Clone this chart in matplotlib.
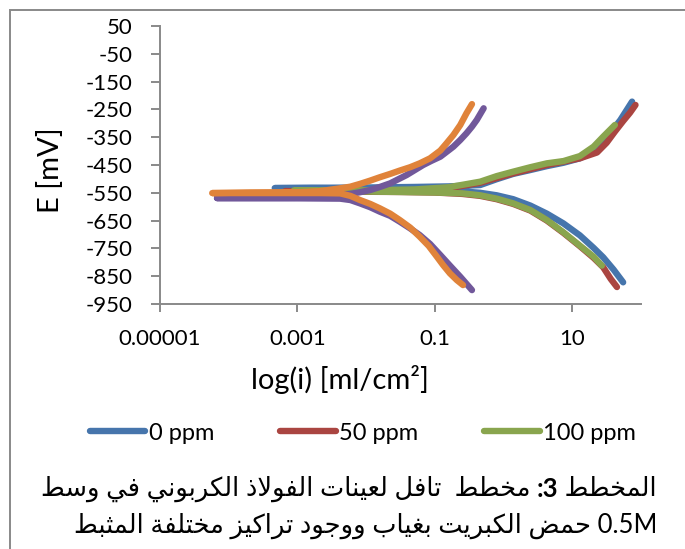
import re
import matplotlib
matplotlib.use("Agg")
import matplotlib.pyplot as plt
from matplotlib.patches import Rectangle
from matplotlib.lines import Line2D

plt.rcParams['font.family'] = ['Lato', 'DejaVu Sans']

# Tafel curves: log10(i) and E [mV], from the cathodic end through Ecorr to the anodic end
logi_0 = [1.74, 1.60, 1.45, 1.31, 1.11, 0.87, 0.63, 0.39, 0.14, -0.10, -0.34, -0.60,
          -1.00, -1.50, -2.20, -2.80, -3.33,
          -2.80, -2.00, -1.30, -0.80, -0.34, -0.10, 0.14, 0.39, 0.63, 0.87, 1.11,
          1.26, 1.40, 1.55, 1.70, 1.87]
E_0 = [-872, -826, -782, -748, -703, -660, -625, -596, -573, -559, -550, -545,
       -541, -537, -534, -533, -533,
       -532, -531, -529, -527, -522, -501, -482, -468, -454, -442, -426,
       -408, -378, -336, -288, -222]

logi_50 = [1.65, 1.56, 1.45, 1.31, 1.11, 0.87, 0.63, 0.39, 0.14, -0.10, -0.34, -0.60,
           -1.00, -1.50, -2.20, -2.80, -3.18,
           -2.80, -2.00, -1.30, -0.80, -0.34, 0.14, 0.63, 1.11, 1.36, 1.50, 1.62,
           1.74, 1.84, 1.92]
E_50 = [-889, -860, -818, -784, -742, -694, -650, -614, -590, -573, -561, -554,
        -549, -547, -546, -545, -544,
        -544, -543, -541, -534, -514, -480, -450, -426, -405, -370, -330,
        -292, -262, -234]

logi_100 = [1.43, 1.31, 1.11, 0.87, 0.63, 0.39, 0.14, -0.10, -0.34, -0.60,
            -1.00, -1.50, -2.20, -2.70, -3.05,
            -2.70, -2.00, -1.30, -0.80, -0.34, -0.10, 0.14, 0.39, 0.63, 0.87, 1.11,
            1.31, 1.45, 1.62]
E_100 = [-812, -780, -740, -692, -648, -612, -588, -571, -559, -552,
         -549, -547, -545, -543, -541,
         -542, -541, -538, -530, -510, -490, -474, -458, -444, -436, -418,
         -384, -348, -306]

logi_p = [-0.46, -0.63, -0.78, -0.92, -1.07, -1.22, -1.36, -1.51, -1.65, -1.80, -1.94,
          -2.09, -2.23, -2.38, -2.96, -3.60, -4.17,
          -3.60, -2.96, -2.60, -2.38, -2.23, -2.09, -1.94, -1.80, -1.65, -1.53, -1.41,
          -1.29, -1.17, -1.05, -0.92, -0.83, -0.73, -0.63, -0.54, -0.46, -0.39, -0.29]
E_p = [-900, -852, -812, -774, -734, -702, -678, -654, -633, -618, -602,
       -588, -576, -571, -570, -569, -569,
       -569, -568, -563, -558, -554, -548, -540, -529, -516, -501, -486,
       -468, -450, -435, -420, -403, -384, -360, -336, -312, -288, -246]

logi_o = [-0.59, -0.68, -0.78, -0.88, -0.97, -1.09, -1.22, -1.36, -1.51, -1.65, -1.80,
          -1.94, -2.09, -2.23, -2.38, -2.67, -2.96, -3.69, -4.24,
          -3.69, -2.96, -2.67, -2.38, -2.23, -2.09, -1.94, -1.80, -1.65, -1.51, -1.36,
          -1.22, -1.07, -0.92, -0.83, -0.73, -0.63, -0.54, -0.46]
E_o = [-882, -864, -840, -810, -780, -741, -708, -675, -648, -625, -606,
       -590, -576, -561, -552, -551, -551, -551, -551,
       -549, -548, -544, -534, -528, -518, -506, -494, -482, -470, -458,
       -444, -426, -398, -372, -342, -306, -264, -231]

series = [
    (logi_0, E_0, '#4675AC', '0 ppm'),
    (logi_50, E_50, '#AA4541', '50 ppm'),
    (logi_100, E_100, '#89A54E', '100 ppm'),
    (logi_p, E_p, '#71589A', None),
    (logi_o, E_o, '#E0833A', None),
]

yticks = list(range(50, -951, -100))
xticks = [1e-5, 1e-3, 1e-1, 10]
xticklabels = ['0.00001', '0.001', '0.1', '10']

caption_1a = 'المخطط '
caption_1b = '3:'
caption_1c = ' مخطط  تافل لعينات الفولاذ الكربوني في وسط'
caption_2 = '0.5M حمض الكبريت بغياب ووجود تراكيز مختلفة المثبط'

# --- minimal Arabic shaping (presentation forms) + right-to-left ordering ---
DUAL = {'ب': 0xFE8F, 'ت': 0xFE95, 'ث': 0xFE99, 'ج': 0xFE9D, 'ح': 0xFEA1, 'خ': 0xFEA5,
        'س': 0xFEB1, 'ش': 0xFEB5, 'ص': 0xFEB9, 'ض': 0xFEBD, 'ط': 0xFEC1, 'ظ': 0xFEC5,
        'ع': 0xFEC9, 'غ': 0xFECD, 'ف': 0xFED1, 'ق': 0xFED5, 'ك': 0xFED9, 'ل': 0xFEDD,
        'م': 0xFEE1, 'ن': 0xFEE5, 'ه': 0xFEE9, 'ي': 0xFEF1, 'ئ': 0xFE89}
RIGHT = {'ا': 0xFE8D, 'أ': 0xFE83, 'إ': 0xFE87, 'آ': 0xFE81, 'د': 0xFEA9, 'ذ': 0xFEAB,
         'ر': 0xFEAD, 'ز': 0xFEAF, 'و': 0xFEED, 'ة': 0xFE93, 'ى': 0xFEEF, 'ؤ': 0xFE85}
LAM_ALEF = {'ا': 0xFEFB, 'أ': 0xFEF7, 'إ': 0xFEF9, 'آ': 0xFEF5}


def shape(s):
    units = []
    i = 0
    while i < len(s):
        c = s[i]
        if c == 'ل' and i + 1 < len(s) and s[i + 1] in LAM_ALEF:
            units.append(('r', LAM_ALEF[s[i + 1]], None))
            i += 2
            continue
        if c in DUAL:
            units.append(('d', DUAL[c], None))
        elif c in RIGHT:
            units.append(('r', RIGHT[c], None))
        else:
            units.append(('n', None, c))
        i += 1
    out = []
    for k, (kind, base, ch) in enumerate(units):
        if kind == 'n':
            out.append(ch)
            continue
        prev = k > 0 and units[k - 1][0] == 'd'
        nxt = k + 1 < len(units) and units[k + 1][0] in ('d', 'r')
        if kind == 'd':
            off = {(False, False): 0, (True, False): 1, (False, True): 2, (True, True): 3}[(prev, nxt)]
        else:
            off = 1 if prev else 0
        out.append(chr(base + off))
    return ''.join(out)


def visual(s):
    runs = re.split(r'([0-9A-Za-z.]+)', shape(s))
    runs = [r if re.fullmatch(r'[0-9A-Za-z.]+', r) else r[::-1] for r in runs if r]
    return ''.join(runs[::-1])


fig = plt.figure(figsize=(6.85, 5.49), dpi=100)
W, H = 685, 549
ax = fig.add_axes([160 / W, 1 - 304 / H, 481 / W, 278 / H])

for logi, E, col, lab in series:
    ax.plot([10 ** v for v in logi], E, color=col, lw=4.6,
            solid_capstyle='round', solid_joinstyle='round',
            label=lab if lab else '_nolegend_')

ax.set_xscale('log')
ax.set_xlim(1e-5, 100)
ax.set_ylim(-950, 50)
ax.set_xticks(xticks)
ax.set_xticklabels(xticklabels)
ax.xaxis.set_minor_locator(matplotlib.ticker.NullLocator())
ax.set_yticks(yticks)
ax.set_yticklabels([str(v) for v in yticks])

gray = '#898989'
for side in ['top', 'right']:
    ax.spines[side].set_visible(False)
for side in ['left', 'bottom']:
    ax.spines[side].set_color(gray)
    ax.spines[side].set_linewidth(1.4)
ax.tick_params(axis='y', direction='out', length=6.5, width=1.4, color=gray,
               pad=13, labelsize=16)
ax.tick_params(axis='x', direction='out', length=6, width=1.4, color=gray,
               pad=12, labelsize=16)

ax.set_ylabel('E [mV]', fontsize=21)
ax.yaxis.set_label_coords(-0.20, 0.48)
fig.text(340 / W, 1 - 380 / H, 'log(i) [ml/cm²]', fontsize=21,
         ha='center', va='center')

handles = [Line2D([], [], color=c, lw=4.6, solid_capstyle='round')
           for _, _, c, lab in series if lab]
labels = [lab for _, _, _, lab in series if lab]
fig.legend(handles, labels, loc='center', bbox_to_anchor=(363 / W, 1 - 433 / H),
           ncol=3, frameon=False, fontsize=17, handlelength=2.35,
           handletextpad=0.15, columnspacing=2.8)

# outer chart border
fig.add_artist(Rectangle((10 / W, -0.05), 1.2, 1 - 10 / H + 0.05,
                         transform=fig.transFigure, fill=False,
                         edgecolor=gray, lw=1.4))

# caption, drawn right to left
renderer = fig.canvas.get_renderer()
cap_size = 18.5
x_right = 657 / W
y1 = 1 - 489 / H
t1 = fig.text(x_right, y1, visual(caption_1a), fontsize=cap_size, ha='right', va='center')
x_next = t1.get_window_extent(renderer).x0 / W
t2 = fig.text(x_next, y1, caption_1b[::-1], fontsize=cap_size, fontweight='bold',
              ha='right', va='center')
x_next = t2.get_window_extent(renderer).x0 / W
fig.text(x_next, y1, visual(caption_1c), fontsize=cap_size, ha='right', va='center')
fig.text(x_right, 1 - 526 / H, visual(caption_2), fontsize=cap_size,
         ha='right', va='center')

fig.savefig('out.png', dpi=100)
